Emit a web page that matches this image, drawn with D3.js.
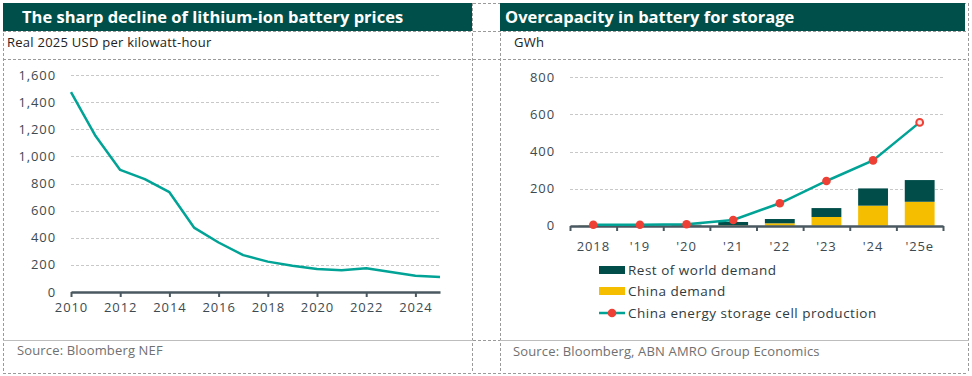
<!DOCTYPE html>
<html><head><meta charset="utf-8">
<script src="https://cdn.jsdelivr.net/npm/d3@7"></script>
<style>
body{margin:0;background:#fff;}
svg{font-family:"Open Sans",sans-serif;}
</style></head>
<body><svg id="c" width="972" height="376"></svg>
<script>
// ---- Data ----
const priceYears = [2010,2011,2012,2013,2014,2015,2016,2017,2018,2019,2020,2021,2022,2023,2024,2025];
const priceValues = [1474,1150,900,832,736,475,365,272,224,194,170,160,175,148,120,111];
const priceTicksY = [0,200,400,600,800,1000,1200,1400,1600];
const priceTicksX = [2010,2012,2014,2016,2018,2020,2022,2024];

const storageCats = ["2018","'19","'20","'21","'22","'23","'24","'25e"];
const chinaDemand = [1,1,1,2,13,47,108,129];
const rowDemand = [1,1,4,18,23,48,93,117];
const chinaProduction = [5,5,8,31,121,241,352,557];
const storageTicksY = [0,200,400,600,800];

const titleLeft = "The sharp decline of lithium-ion battery prices";
const titleRight = "Overcapacity in battery for storage";
const unitLeft = "Real 2025 USD per kilowatt-hour";
const unitRight = "GWh";
const sourceLeft = "Source: Bloomberg NEF";
const sourceRight = "Source: Bloomberg, ABN AMRO Group Economics";
const legendLabels = ["Rest of world demand","China demand","China energy storage cell production"];

// ---- Styles ----
const C = {bar:"#004d4a", yellow:"#f5bf00", teal:"#00a396", red:"#ee4035", axis:"#4a5961", text:"#3d4a51", grid:"#c8c8c8", border:"#9a9a9a"};
const TICK_FS = 13, TICK_LS = "0.9px";

const svg = d3.select("#c");

// frame: dashed cell borders
const xs = [3,472,500,968], ys = [3,31,59,340,373];
const frame = svg.append("g").attr("stroke",C.border).attr("stroke-width",1).attr("stroke-dasharray","3,2").attr("fill","none");
ys.forEach(y=>frame.append("line").attr("x1",3).attr("x2",968).attr("y1",y+0.5).attr("y2",y+0.5));
xs.forEach(x=>frame.append("line").attr("x1",x+0.5).attr("x2",x+0.5).attr("y1",3).attr("y2",373));

// title bars
[[3,472,titleLeft,22],[500,965,titleRight,505]].forEach(([a,b,t,tx])=>{
  svg.append("rect").attr("x",a).attr("y",3).attr("width",b-a).attr("height",28).attr("fill","#004f4a");
  svg.append("text").attr("x",tx).attr("y",23).attr("fill","#fff").attr("font-size",16.5).attr("font-weight",700).text(t);
});
// unit labels
svg.append("text").attr("x",7).attr("y",47).attr("font-size",13).attr("letter-spacing","0.25px").attr("fill","#222").text(unitLeft);
svg.append("text").attr("x",514).attr("y",47).attr("font-size",13).attr("letter-spacing","0.25px").attr("fill","#222").text(unitRight);
// source separators & text
[[3,472],[500,968]].forEach(([a,b])=>svg.append("line").attr("x1",a).attr("x2",b+1).attr("y1",340.5).attr("y2",340.5).attr("stroke","#bdbdbd"));
svg.append("text").attr("x",17).attr("y",355).attr("font-size",13).attr("letter-spacing","0.15px").attr("fill","#707070").text(sourceLeft);
svg.append("text").attr("x",513).attr("y",356).attr("font-size",13).attr("letter-spacing","0.15px").attr("fill","#707070").text(sourceRight);

// ---- Left chart ----
const xL = d3.scaleLinear().domain([2010,2025]).range([71,440]);
const yL = d3.scaleLinear().domain([0,1600]).range([292,75]);
const gL = svg.append("g");
gL.append("g").selectAll("line").data(priceTicksY.filter(d=>d>0)).join("line")
  .attr("x1",71).attr("x2",440).attr("y1",d=>Math.round(yL(d))+0.5).attr("y2",d=>Math.round(yL(d))+0.5)
  .attr("stroke",C.grid).attr("stroke-dasharray","3,2");
gL.append("g").selectAll("text").data(priceTicksY).join("text")
  .attr("x",56).attr("y",d=>yL(d)+4.5).attr("text-anchor","end").attr("font-size",TICK_FS).attr("letter-spacing",TICK_LS).attr("fill",C.text)
  .text(d3.format(","));
const axL = gL.append("g").attr("transform","translate(0,292)")
  .call(d3.axisBottom(xL).tickValues(priceTicksX).tickFormat(d3.format("d")).tickSize(5).tickSizeOuter(0));
axL.select(".domain").attr("stroke",C.axis).attr("stroke-width",2.5);
axL.selectAll(".tick line").attr("stroke",C.axis).attr("stroke-width",2);
axL.selectAll(".tick text").attr("font-size",TICK_FS).attr("letter-spacing",TICK_LS).attr("fill",C.text).attr("font-family","Open Sans").attr("dy","0.95em");
gL.append("path").datum(priceYears.map((y,i)=>[y,priceValues[i]]))
  .attr("fill","none").attr("stroke",C.teal).attr("stroke-width",2.5).attr("stroke-linejoin","round")
  .attr("d",d3.line().x(d=>xL(d[0])).y(d=>yL(d[1])));

// ---- Right chart ----
const xR = d3.scaleBand().domain(storageCats).range([570,943]).paddingInner(0.36).paddingOuter(0.18);
const yR = d3.scaleLinear().domain([0,800]).range([225.7,77.3]);
const gR = svg.append("g");
gR.append("g").selectAll("line").data(storageTicksY.filter(d=>d>0)).join("line")
  .attr("x1",570).attr("x2",943).attr("y1",d=>Math.round(yR(d))+0.5).attr("y2",d=>Math.round(yR(d))+0.5)
  .attr("stroke",C.grid).attr("stroke-dasharray","3,2");
gR.append("g").selectAll("text").data(storageTicksY).join("text")
  .attr("x",555).attr("y",d=>yR(d)+4.5).attr("text-anchor","end").attr("font-size",TICK_FS).attr("letter-spacing",TICK_LS).attr("fill",C.text)
  .text(d=>d);
// bars
const bars = gR.append("g");
storageCats.forEach((c,i)=>{
  bars.append("rect").attr("x",xR(c)).attr("width",xR.bandwidth()).attr("y",yR(chinaDemand[i])).attr("height",yR(0)-yR(chinaDemand[i])).attr("fill",C.yellow);
  bars.append("rect").attr("x",xR(c)).attr("width",xR.bandwidth()).attr("y",yR(chinaDemand[i]+rowDemand[i])).attr("height",yR(chinaDemand[i])-yR(chinaDemand[i]+rowDemand[i])).attr("fill",C.bar);
});
const xAxR = d3.scaleLinear().domain([0,storageCats.length]).range([570,943]);
const axR = gR.append("g").attr("transform","translate(0,226)")
  .call(d3.axisBottom(xAxR).tickValues(d3.range(storageCats.length+1)).tickFormat("").tickSize(5).tickSizeOuter(0));
axR.select(".domain").attr("stroke",C.axis).attr("stroke-width",2.5);
axR.selectAll(".tick line").attr("stroke",C.axis).attr("stroke-width",2);
gR.append("g").selectAll("text").data(storageCats).join("text")
  .attr("x",d=>xR(d)+xR.bandwidth()/2).attr("y",251).attr("text-anchor","middle").attr("font-size",TICK_FS).attr("letter-spacing",TICK_LS).attr("fill",C.text).text(d=>d);
// line
const cx = c=>xR(c)+xR.bandwidth()/2;
gR.append("path").datum(storageCats.map((c,i)=>[c,chinaProduction[i]]))
  .attr("fill","none").attr("stroke",C.teal).attr("stroke-width",2.5)
  .attr("d",d3.line().x(d=>cx(d[0])).y(d=>yR(d[1])));
gR.append("g").selectAll("circle").data(storageCats.map((c,i)=>[c,chinaProduction[i],i])).join("circle")
  .attr("cx",d=>cx(d[0])).attr("cy",d=>yR(d[1])).attr("r",d=>d[2]===storageCats.length-1?3.4:4.3)
  .attr("fill",d=>d[2]===storageCats.length-1?"#fde8e6":C.red)
  .attr("stroke",d=>d[2]===storageCats.length-1?C.red:"none").attr("stroke-width",2);

// legend
const lg = svg.append("g").attr("font-size",13.5).attr("letter-spacing","0.5px").attr("fill","#2f3b40");
lg.append("rect").attr("x",599).attr("y",266).attr("width",26).attr("height",8).attr("fill",C.bar);
lg.append("text").attr("x",628).attr("y",274.5).text(legendLabels[0]);
lg.append("rect").attr("x",599).attr("y",287).attr("width",26).attr("height",8).attr("fill",C.yellow);
lg.append("text").attr("x",628).attr("y",295.5).text(legendLabels[1]);
lg.append("line").attr("x1",599).attr("x2",625).attr("y1",313).attr("y2",313).attr("stroke",C.teal).attr("stroke-width",2.5);
lg.append("circle").attr("cx",612).attr("cy",313).attr("r",4.3).attr("fill",C.red);
lg.append("text").attr("x",628).attr("y",317.5).text(legendLabels[2]);
</script></body></html>
